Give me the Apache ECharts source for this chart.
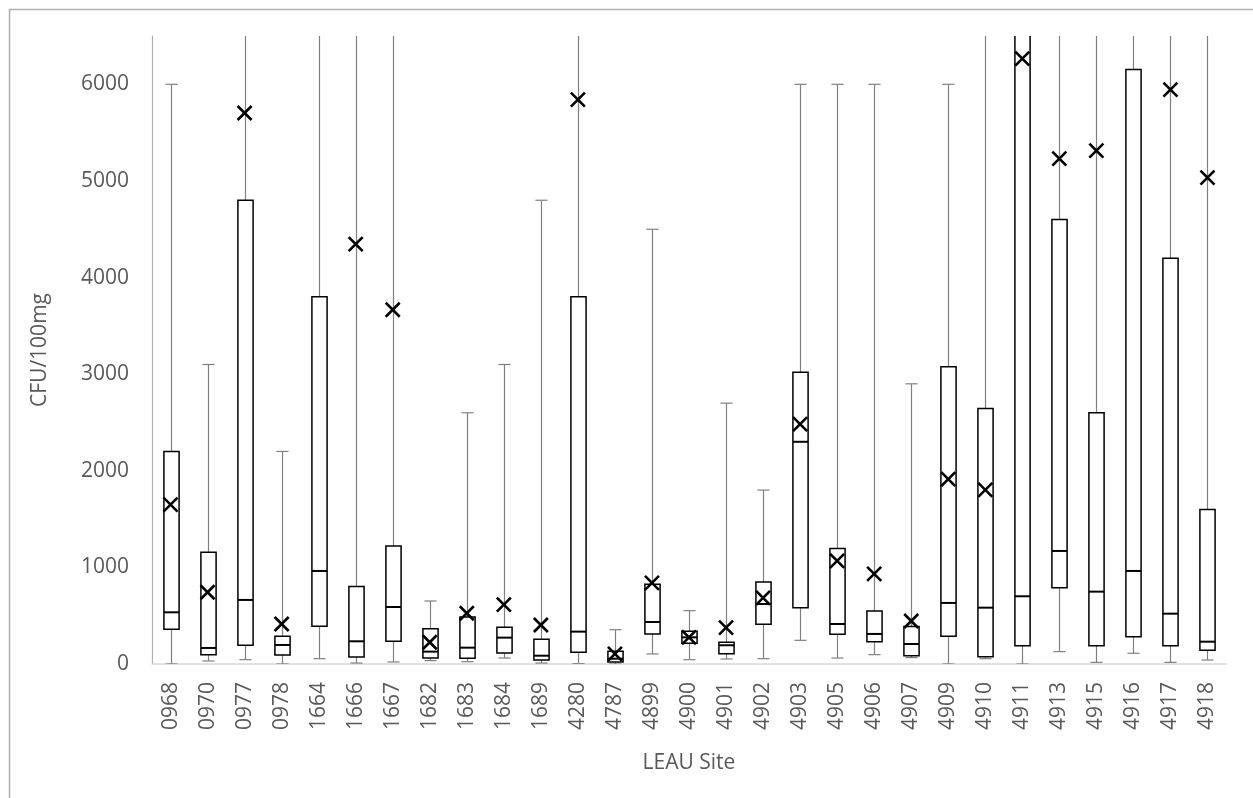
<!DOCTYPE html>
<html>
<head>
<meta charset="utf-8">
<script src="https://cdn.jsdelivr.net/npm/echarts@6/dist/echarts.min.js"></script>
<style>
html,body{margin:0;padding:0;background:#fff;}
#chart{width:1253px;height:798px;}
</style>
</head>
<body>
<div id="chart"></div>
<script>
const sites = ['0968','0970','0977','0978','1664','1666','1667','1682','1683','1684','1689','4280','4787','4899','4900','4901','4902','4903','4905','4906','4907','4909','4910','4911','4913','4915','4916','4917','4918'];
// values above 6500 run past the top of the plot (clipped in the reference)
const whiskerLow  = [0, 31, 45, 0, 55, 10, 21, 35, 24, 62, 10, 3, 0, 104, 45, 52, 55, 245, 62, 97, 66, 0, 55, 0, 128, 17, 111, 17, 41];
const q1          = [359, 97, 194, 93, 390, 72, 235, 62, 59, 114, 41, 121, 21, 311, 214, 107, 411, 583, 307, 231, 86, 287, 76, 190, 790, 190, 283, 190, 142];
const median      = [535, 166, 663, 197, 963, 235, 590, 128, 169, 273, 86, 335, 55, 435, 276, 194, 621, 2300, 414, 311, 207, 632, 583, 701, 1170, 749, 963, 521, 231];
const q3          = [2200, 1157, 4800, 287, 3800, 801, 1222, 366, 487, 380, 256, 3800, 131, 825, 338, 225, 849, 3020, 1195, 549, 387, 3076, 2644, 7000, 4600, 2600, 6152, 4200, 1600];
const whiskerHigh = [6000, 3100, 8000, 2200, 8000, 8000, 8000, 652, 2600, 3100, 4800, 8000, 355, 4500, 552, 2700, 1800, 6000, 6000, 6000, 2900, 6000, 8000, 8000, 8000, 8000, 8000, 8000, 8000];
const means       = [1650, 743, 5703, 414, null, 4346, 3667, 225, 525, 615, 404, 5841, 104, 839, 276, 376, 684, 2483, 1067, 932, 445, 1913, 1802, 6266, 5230, 5313, null, 5945, 5034];
const yTicks = [0, 1000, 2000, 3000, 4000, 5000, 6000];

const boxData = sites.map((s, i) => [i, whiskerLow[i], q1[i], median[i], q3[i], whiskerHigh[i]]);
const meanData = sites.map((s, i) => means[i] == null ? null : [i, means[i]]).filter(d => d);

const FONT = '"Open Sans", "Liberation Sans", sans-serif';
const TXT = '#595959';

function renderBox(params, api) {
  const x = api.value(0);
  const lo = api.coord([x, api.value(1)]);
  const b1 = api.coord([x, api.value(2)]);
  const md = api.coord([x, api.value(3)]);
  const b3 = api.coord([x, api.value(4)]);
  const hi = api.coord([x, api.value(5)]);
  const bw = api.size([1, 0])[0] * 0.41;
  const cw = bw * 0.8;
  const cx = Math.round(lo[0]) + 0.5;
  const wStyle = {stroke: '#808080', lineWidth: 1.2};
  const bStyle = {stroke: '#000', lineWidth: 1.5, fill: '#fff'};
  return {
    type: 'group',
    children: [
      {type: 'line', shape: {x1: cx, y1: b3[1], x2: cx, y2: hi[1]}, style: wStyle},
      {type: 'line', shape: {x1: cx, y1: lo[1], x2: cx, y2: b1[1]}, style: wStyle},
      {type: 'line', shape: {x1: cx - cw / 2, y1: hi[1], x2: cx + cw / 2, y2: hi[1]}, style: wStyle},
      {type: 'line', shape: {x1: cx - cw / 2, y1: lo[1], x2: cx + cw / 2, y2: lo[1]}, style: wStyle},
      {type: 'rect', shape: {x: cx - bw / 2, y: b3[1], width: bw, height: b1[1] - b3[1]}, style: bStyle},
      {type: 'line', shape: {x1: cx - bw / 2, y1: md[1], x2: cx + bw / 2, y2: md[1]}, style: {stroke: '#000', lineWidth: 2}}
    ]
  };
}

function renderMean(params, api) {
  const p = api.coord([api.value(0), api.value(1)]);
  const h = 7;
  const st = {stroke: '#000', lineWidth: 2.6};
  return {
    type: 'group',
    children: [
      {type: 'line', shape: {x1: p[0] - h, y1: p[1] - h, x2: p[0] + h, y2: p[1] + h}, style: st},
      {type: 'line', shape: {x1: p[0] - h, y1: p[1] + h, x2: p[0] + h, y2: p[1] - h}, style: st}
    ]
  };
}

const chart = echarts.init(document.getElementById('chart'), null, {renderer: 'canvas'});
chart.setOption({
  animation: false,
  backgroundColor: '#fff',
  graphic: [{
    type: 'rect', left: 7, top: 7,
    shape: {width: 1300, height: 900},
    style: {fill: 'none', stroke: '#b0b0b0', lineWidth: 1.5},
    silent: true
  }],
  grid: {left: 152, right: 27, top: 36, bottom: 134, containLabel: false},
  xAxis: {
    type: 'category',
    data: sites,
    boundaryGap: true,
    name: 'LEAU Site',
    nameLocation: 'middle',
    nameGap: 89,
    nameTextStyle: {fontFamily: FONT, fontSize: 21, color: TXT},
    axisLine: {show: true, lineStyle: {color: '#d9d9d9', width: 1.5}},
    axisTick: {show: false},
    axisLabel: {rotate: 90, margin: 18, fontFamily: FONT, fontSize: 21, color: TXT, interval: 0},
    splitLine: {show: false}
  },
  yAxis: {
    type: 'value',
    min: 0, max: 6500, interval: 1000,
    name: 'CFU/100mg',
    nameLocation: 'middle',
    nameGap: 101,
    nameRotate: 90,
    nameTextStyle: {fontFamily: FONT, fontSize: 21, color: TXT},
    axisLine: {show: true, lineStyle: {color: '#b0b0b0', width: 1.2}},
    axisTick: {show: false},
    axisLabel: {
      margin: 23, fontFamily: FONT, fontSize: 21, color: TXT, showMaxLabel: false,
      formatter: v => (yTicks.indexOf(v) >= 0 ? String(v) : '')
    },
    splitLine: {show: false}
  },
  series: [
    {type: 'custom', name: 'box', clip: true, renderItem: renderBox, data: boxData, encode: {x: 0, y: [1, 2, 3, 4, 5]}, z: 2},
    {type: 'custom', name: 'mean', clip: true, renderItem: renderMean, data: meanData, encode: {x: 0, y: 1}, z: 3}
  ]
});
</script>
</body>
</html>
